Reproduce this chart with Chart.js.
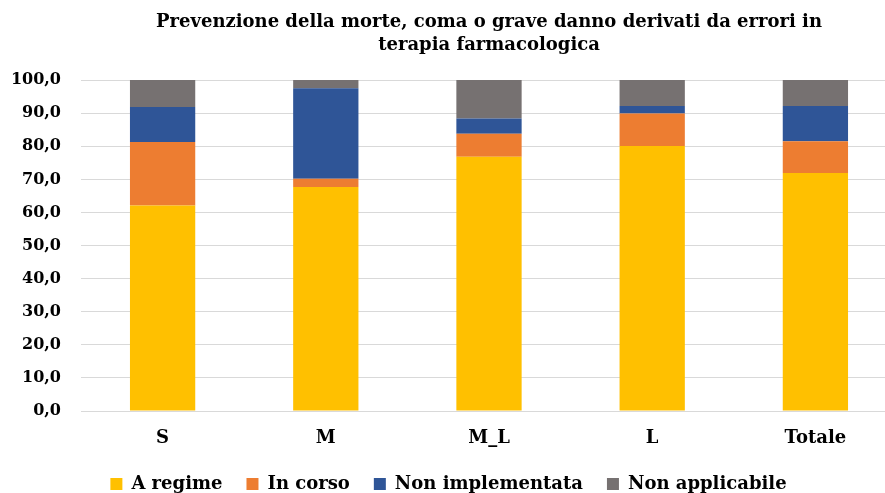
<!DOCTYPE html>
<html>
<head>
<meta charset="utf-8">
<script src="https://cdn.jsdelivr.net/npm/chart.js@4"></script>
<style>
  html, body { margin: 0; padding: 0; background: #fff; overflow: hidden; }
  #wrap { width: 928px; height: 503px; }
</style>
</head>
<body>
<div id="wrap"><canvas id="barChart"></canvas></div>
<script>
// categories and series (percentuali)
const categories = ["S", "M", "M_L", "L", "Totale"];
const aRegime = [62.1, 67.7, 76.8, 80.1, 71.9];
const inCorso = [19.2, 2.5, 7.0, 9.8, 9.6];
const nonImplementata = [10.6, 27.3, 4.6, 2.3, 10.7];
const nonApplicabile = [8.1, 2.5, 11.6, 7.8, 7.8];
const yTicks = [0, 10, 20, 30, 40, 50, 60, 70, 80, 90, 100];

const font = "'DejaVu Serif', 'Liberation Serif', serif";

const data = {
  labels: categories,
  datasets: [
    { label: "A regime", data: aRegime, backgroundColor: "#FFC000" },
    { label: "In corso", data: inCorso, backgroundColor: "#ED7D31" },
    { label: "Non implementata", data: nonImplementata, backgroundColor: "#2F5597" },
    { label: "Non applicabile", data: nonApplicabile, backgroundColor: "#767171" },
  ],
};

const barChart = new Chart(document.getElementById("barChart"), {
  type: "bar",
  data: data,
  options: {
    responsive: true,
    maintainAspectRatio: false,
    animation: false,
    datasets: {
      bar: { barPercentage: 0.4, categoryPercentage: 1.0 },
    },
    layout: { padding: { left: 0, right: 31, top: 0, bottom: 0 } },
    plugins: {
      title: {
        display: true,
        fullSize: false,
        text: [
          "Prevenzione della morte, coma o grave danno derivati da errori in",
          "terapia farmacologica",
        ],
        color: "#000",
        font: { family: font, size: 18, weight: "bold", lineHeight: 1.28 },
        padding: { top: 10.5, bottom: 23.5 },
      },
      legend: {
        position: "bottom",
        labels: {
          color: "#000",
          boxWidth: 12,
          boxHeight: 12,
          padding: 24,
          font: { family: font, size: 18, weight: "bold" },
        },
      },
      tooltip: { enabled: false },
    },
    scales: {
      x: {
        stacked: true,
        grid: { display: false, drawTicks: false },
        border: { color: "#D9D9D9", width: 1 },
        ticks: {
          color: "#000",
          padding: 17,
          font: { family: font, size: 18, weight: "bold" },
        },
        afterFit: function (scale) { scale.height = 40; },
      },
      y: {
        stacked: true,
        min: 0,
        max: 100,
        afterBuildTicks: function (scale) {
          scale.ticks = yTicks.map(v => ({ value: v }));
        },
        grid: { color: "#D9D9D9", drawTicks: false },
        border: { display: false },
        ticks: {
          color: "#000",
          padding: 20,
          font: { family: font, size: 16, weight: "bold" },
          callback: v => v.toFixed(1).replace(".", ","),
        },
        afterFit: function (scale) { scale.width = 81; },
      },
    },
  },
});
</script>
</body>
</html>
